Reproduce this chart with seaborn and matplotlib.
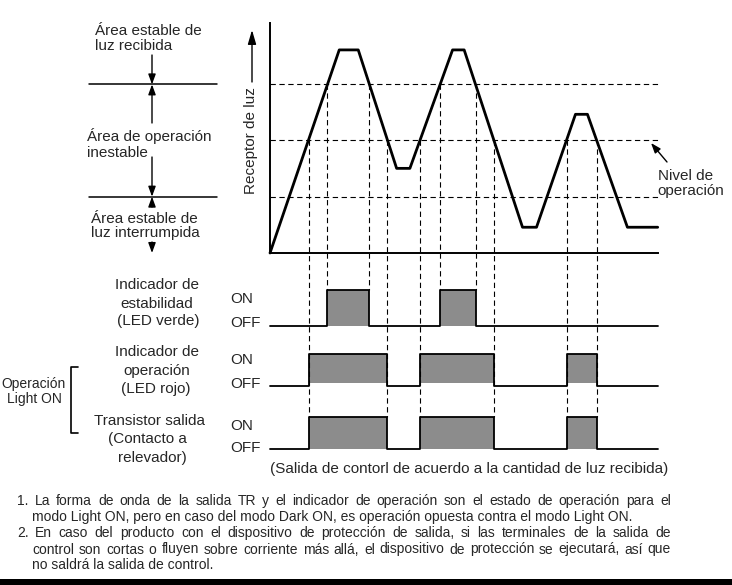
import numpy as np
import pandas as pd
import matplotlib
matplotlib.use("Agg")
import matplotlib.pyplot as plt
import seaborn as sns

# ---------------- data ----------------
# light-received waveform: time (0..100) and level (0..100)
wave_t = [0, 17.86, 22.76, 32.66, 36.08, 47.09, 50.08, 65.13, 68.74, 78.79, 81.88, 92.19, 100]
wave_level = [0, 88.3, 88.3, 36.8, 36.8, 88.3, 88.3, 11.2, 11.2, 60.3, 60.3, 11.2, 11.2]
stable_on_level = 73.3     # upper dashed line (stable light received)
operation_level = 49.1     # "Nivel de operación"
stable_off_level = 24.5    # lower dashed line (stable light interrupted)

signal_names = ["estabilidad", "operacion", "transistor"]
state_labels = ["ON", "OFF"]

left_area_labels = [["Área estable de", "luz recibida"],
                    ["Área de operación", "inestable"],
                    ["Área estable de", "luz interrumpida"]]
signal_labels = [["Indicador de", "estabilidad", "(LED verde)"],
                 ["Indicador de", "operación", "(LED rojo)"],
                 ["Transistor salida", "(Contacto a", "relevador)"]]
caption = "(Salida de contorl de acuerdo a la cantidad de luz recibida)"
notes = [
    ("1. La forma de onda de la salida TR y el indicador de operación son el estado de operación para el", 17, True),
    ("modo Light ON, pero en caso del modo Dark ON, es operación opuesta contra el modo Light ON.", 32, False),
    ("2. En caso del producto con el dispositivo de protección de salida, si las terminales de la salida de", 17, True),
    ("control son cortas o fluyen sobre corriente más allá, el dispositivo de protección se ejecutará, así que", 32, True),
    ("no saldrá la salida de control.", 32, False),
]

# ---------------- style ----------------
sns.set_style("white")
plt.rcParams["font.family"] = ["Liberation Sans", "DejaVu Sans"]
FS = 11
GRAY = "#8c8c8c"
DASH = (0, (4.8, 3.2))

W, H = 732, 585
fig = plt.figure(figsize=(W / 100, H / 100), dpi=100)
fig.patch.set_facecolor("white")


def fx(px):
    return px / W


def fy(py):
    return 1 - py / H


BASE_PX, PX_PER_LVL = 253.0, 2.3


def lvl(py):
    return (BASE_PX - py) / PX_PER_LVL


def pyl(level):
    return BASE_PX - PX_PER_LVL * level


# overlay axes in figure pixel units (annotations and text)
ov = fig.add_axes([0, 0, 1, 1])
ov.set_xlim(0, W)
ov.set_ylim(H, 0)
ov.axis("off")

# main axes: time on x, light level on y (signal rows below 0)
ax = fig.add_axes([fx(270), fy(470), fx(657.7) - fx(270), fy(23) - fy(470)])
ax.set_xlim(0, 100)
ax.set_ylim(lvl(470), 100)
ax.patch.set_alpha(0)
ax.set_xticks([])
ax.set_yticks([])
for s in ["top", "right"]:
    ax.spines[s].set_visible(False)
ax.spines["left"].set_bounds(0, 100)
ax.spines["bottom"].set_position(("data", 0))
for s in ["left", "bottom"]:
    ax.spines[s].set_linewidth(1.4)
    ax.spines[s].set_color("black")

# threshold dashed lines
for th in [stable_on_level, operation_level, stable_off_level]:
    ax.plot([0, 100], [th, th], color="black", lw=0.8, ls=DASH, clip_on=False, zorder=2)

# waveform
wave = pd.DataFrame({"t": wave_t, "level": wave_level})
sns.lineplot(data=wave, x="t", y="level", ax=ax, color="black", lw=2.0,
             sort=False, estimator=None, clip_on=False, zorder=4)
ax.set_xlabel("")
ax.set_ylabel("")


def crossings(t, v, level):
    out = []
    for i in range(len(t) - 1):
        a, b = v[i], v[i + 1]
        if (a - level) * (b - level) < 0:
            out.append(t[i] + (level - a) / (b - a) * (t[i + 1] - t[i]))
    return out


green_edges = crossings(wave_t, wave_level, stable_on_level)
red_edges = crossings(wave_t, wave_level, operation_level)
edges = {"estabilidad": green_edges, "operacion": red_edges, "transistor": red_edges}

# row positions (pixels -> level units)
rows = {
    "estabilidad": dict(on=lvl(290), off=lvl(326), fill=lvl(326)),
    "operacion": dict(on=lvl(354), off=lvl(385.7), fill=lvl(383)),
    "transistor": dict(on=lvl(416.7), off=lvl(449), fill=lvl(449)),
}

# vertical dashed projection lines
for e in green_edges:
    ax.plot([e, e], [stable_on_level, rows["estabilidad"]["on"]], color="black",
            lw=0.8, ls=DASH, clip_on=False, zorder=2)
for e in red_edges:
    ax.plot([e, e], [operation_level, rows["transistor"]["on"]], color="black",
            lw=0.8, ls=DASH, clip_on=False, zorder=2)

# signal rows
for name in signal_names:
    r = rows[name]
    ed = edges[name]
    xs, ys = [0], [r["off"]]
    for i in range(0, len(ed), 2):
        a, b = ed[i], ed[i + 1]
        ax.fill_between([a, b], [r["fill"]] * 2, [r["on"]] * 2, color=GRAY, lw=0,
                        clip_on=False, zorder=1)
        xs += [a, a, b, b]
        ys += [r["off"], r["on"], r["on"], r["off"]]
    xs.append(100)
    ys.append(r["off"])
    sig = pd.DataFrame({"t": xs, "s": ys})
    sns.lineplot(data=sig, x="t", y="s", ax=ax, color="black", lw=1.3, sort=False,
                 estimator=None, clip_on=False, zorder=3)
ax.set_xlabel("")
ax.set_ylabel("")

# ---------------- annotations ----------------
def arrow(x0, y0, x1, y1, hl=0.6, hw=0.22, lw=1.0):
    ov.annotate("", xy=(x1, y1), xytext=(x0, y0),
                arrowprops=dict(arrowstyle=f"-|>,head_length={hl},head_width={hw}",
                                mutation_scale=10, color="black", lw=lw,
                                shrinkA=0, shrinkB=0))


y_up, y_low = pyl(stable_on_level), pyl(stable_off_level)
for yy in [y_up, y_low]:
    ov.plot([89, 217], [yy, yy], color="black", lw=1.1)
arrow(152, 55, 152, y_up)
arrow(152, 123, 152, y_up)
arrow(152, 157, 152, y_low)
arrow(152, 207, 152, y_low)
arrow(152, 242, 152, 253)

# left area texts (left aligned)
for lines, x, ys in zip(left_area_labels, [95, 87, 91], [(35, 50), (141.5, 156.7), (223, 237.5)]):
    for txt, yb in zip(lines, ys):
        ov.text(x, yb, txt, fontsize=FS, ha="left", va="baseline")

# Receptor de luz
ov.text(251, 140.5, "Receptor de luz", fontsize=FS, rotation=90, ha="center", va="center")
arrow(252, 82, 252, 30, hl=0.85, hw=0.25)

# Nivel de operacion
ov.text(658, 180, "Nivel de", fontsize=FS, ha="left", va="baseline")
ov.text(657, 194.5, "operación", fontsize=FS, ha="left", va="baseline")
arrow(667, 162, 651, 143)

# signal labels
label_pos = [[(157, 289), (157, 307.5), (158, 325)],
             [(157, 356), (157, 375), (156, 392.7)],
             [(149, 425), (147, 442.7), (152, 461.7)]]
for lines, pos in zip(signal_labels, label_pos):
    for txt, (x, yb) in zip(lines, pos):
        ov.text(x, yb, txt, fontsize=FS, ha="center", va="baseline")

onoff_pos = [(302.7, 326.7), (364.3, 387.7), (430, 451.7)]
for (yon, yoff) in onoff_pos:
    ov.text(230, yon, state_labels[0], fontsize=FS, ha="left", va="baseline")
    ov.text(230, yoff, state_labels[1], fontsize=FS, ha="left", va="baseline")

# Operación Light ON bracket (kept fully inside the canvas)
ov.text(34, 387.7, "Operación", fontsize=10, ha="center", va="baseline")
ov.text(34, 403.3, "Light ON", fontsize=10, ha="center", va="baseline")
ov.plot([78, 71, 71, 78], [367, 367, 433, 433], color="black", lw=1.2)

# caption
ov.text(469, 473.3, caption, fontsize=FS, ha="center", va="baseline")

# notes, justified
renderer = fig.canvas.get_renderer()
NFS = 10
RIGHT = 671
baselines = [505, 521, 537, 553.5, 569]
for (txt, x0, just), yb in zip(notes, baselines):
    if not just:
        ov.text(x0, yb, txt, fontsize=NFS, ha="left", va="baseline")
        continue
    words = txt.split(" ")
    objs = [ov.text(0, yb, w, fontsize=NFS, ha="left", va="baseline") for w in words]
    widths = [o.get_window_extent(renderer).width for o in objs]
    gap = (RIGHT - x0 - sum(widths)) / (len(words) - 1)
    x = x0
    for o, w in zip(objs, widths):
        o.set_x(x)
        x += w + gap

# bottom bar
ov.fill_between([0, W], [579, 579], [H, H], color="black", lw=0)

fig.savefig("out.png", dpi=100, facecolor="white")
